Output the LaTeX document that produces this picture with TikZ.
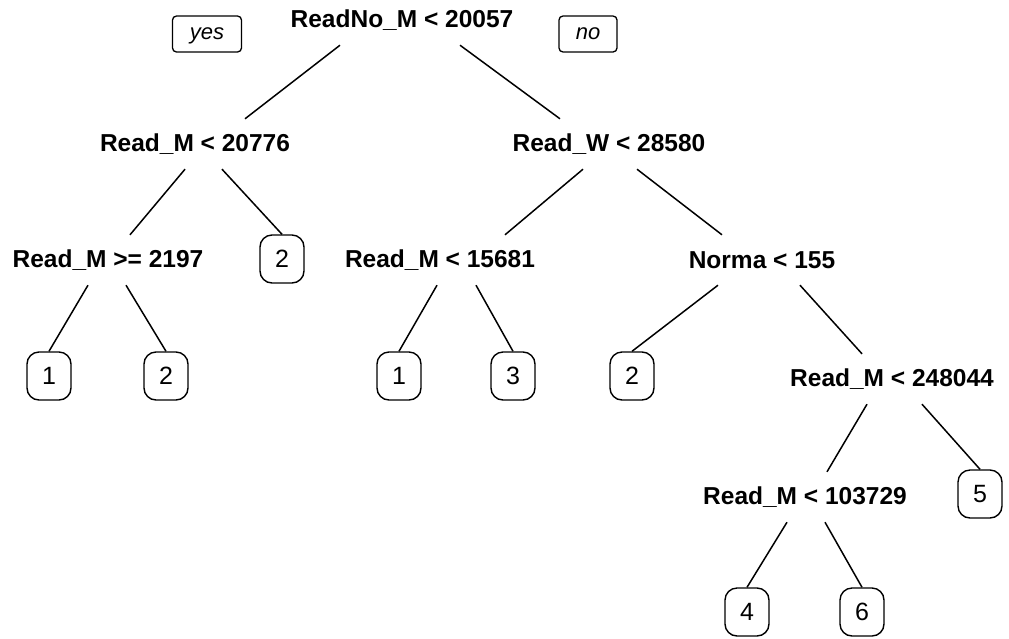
\documentclass[tikz,border=0pt]{standalone}
\usepackage{fontspec}
\setmainfont{Liberation Sans}
\tikzset{
  splitNode/.style={font=\fontsize{24.5}{28}\selectfont\bfseries, minimum height=50, inner sep=0},
  leafNode/.style={draw, line width=1.4, rounded corners=12, minimum width=44, minimum height=48,
    inner sep=0, font=\fontsize{25}{28}\selectfont},
  sideLabel/.style={draw, line width=1.3, rounded corners=4, minimum height=36, inner sep=0,
    text height=11.5pt, text depth=0pt, font=\fontsize{22}{26}\selectfont\itshape},
  branchLine/.style={line width=1.5}
}
\newcommand{\branch}[4]{\draw[branchLine] ([xshift=#2]#1.south) -- ([xshift=#4]#3.north);}

\begin{document}
\begin{tikzpicture}[x=1pt, y=-1pt]
\useasboundingbox (0,0) rectangle (1009,638);
% split nodes
\node[splitNode] (root) at (402,20) {ReadNo\_M < 20057};
\node[splitNode] (readMa) at (195,144) {Read\_M < 20776};
\node[splitNode] (readW) at (609,144) {Read\_W < 28580};
\node[splitNode] (readMb) at (108,260) {Read\_M >= 2197};
\node[splitNode] (readMc) at (440,260) {Read\_M < 15681};
\node[splitNode] (norma) at (762,260) {Norma < 155};
\node[splitNode] (readMd) at (892,379) {Read\_M < 248044};
\node[splitNode] (readMe) at (805,497) {Read\_M < 103729};
% yes / no
\node[sideLabel, minimum width=69] (yes) at (207,34) {yes};
\node[sideLabel, minimum width=58] (no) at (588,34) {no};
% leaves
\node[leafNode] (leafA) at (282,259) {2};
\node[leafNode] (leafB) at (49,376) {1};
\node[leafNode] (leafC) at (166,376) {2};
\node[leafNode] (leafD) at (399,376) {1};
\node[leafNode] (leafE) at (513,376) {3};
\node[leafNode] (leafF) at (632,376) {2};
\node[leafNode] (leafG) at (980,494) {5};
\node[leafNode] (leafH) at (747,612) {4};
\node[leafNode] (leafI) at (862,612) {6};
% branches
\branch{root}{-62}{readMa}{50}
\branch{root}{58}{readW}{-49}
\branch{readMa}{-10}{readMb}{22}
\branch{readMa}{27}{leafA}{0}
\branch{readMb}{-20}{leafB}{0}
\branch{readMb}{18}{leafC}{0}
\branch{readW}{-26}{readMc}{65}
\branch{readW}{28}{norma}{-40}
\branch{readMc}{-3}{leafD}{0}
\branch{readMc}{36}{leafE}{0}
\branch{norma}{-44}{leafF}{0}
\branch{norma}{38}{readMd}{-30}
\branch{readMd}{-25}{readMe}{22}
\branch{readMd}{30}{leafG}{0}
\branch{readMe}{-18}{leafH}{0}
\branch{readMe}{20}{leafI}{0}
\end{tikzpicture}
\end{document}
